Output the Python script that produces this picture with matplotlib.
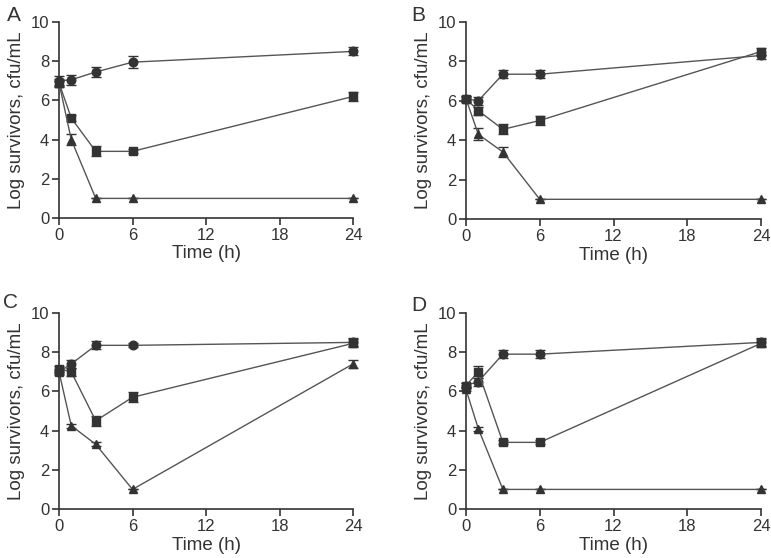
import numpy as np
import matplotlib
matplotlib.use('Agg')
import matplotlib.pyplot as plt

plt.rcParams['font.family'] = ['Liberation Sans', 'DejaVu Sans']
plt.rcParams['font.size'] = 12

time_h = [0, 1, 3, 6, 24]
panels = ['A', 'B', 'C', 'D']

# circles, squares, triangles for each panel
circles = {
    'A': [7.0, 7.05, 7.45, 7.95, 8.5],
    'B': [6.1, 6.0, 7.35, 7.35, 8.3],
    'C': [7.0, 7.4, 8.35, 8.35, 8.5],
    'D': [6.3, 6.5, 7.9, 7.9, 8.5],
}
circles_err = {
    'A': [0.25, 0.25, 0.25, 0.3, 0.2],
    'B': [0.15, 0.2, 0.2, 0.2, 0.2],
    'C': [0.15, 0.2, 0.2, 0.1, 0.2],
    'D': [0.15, 0.2, 0.2, 0.2, 0.2],
}
squares = {
    'A': [6.9, 5.1, 3.4, 3.4, 6.2],
    'B': [6.1, 5.5, 4.55, 5.0, 8.5],
    'C': [7.15, 7.0, 4.5, 5.7, 8.45],
    'D': [6.3, 7.0, 3.4, 3.4, 8.45],
}
squares_err = {
    'A': [0.2, 0.15, 0.25, 0.1, 0.25],
    'B': [0.15, 0.2, 0.25, 0.25, 0.2],
    'C': [0.15, 0.2, 0.25, 0.25, 0.2],
    'D': [0.15, 0.3, 0.1, 0.1, 0.2],
}
triangles = {
    'A': [6.9, 4.0, 1.0, 1.0, 1.0],
    'B': [6.1, 4.3, 3.4, 1.0, 1.0],
    'C': [7.0, 4.25, 3.3, 1.0, 7.4],
    'D': [6.1, 4.1, 1.0, 1.0, 1.0],
}
triangles_err = {
    'A': [0.1, 0.3, 0.0, 0.0, 0.0],
    'B': [0.1, 0.3, 0.25, 0.0, 0.0],
    'C': [0.1, 0.1, 0.1, 0.0, 0.2],
    'D': [0.1, 0.1, 0.0, 0.0, 0.0],
}

dark = '#333333'
fig = plt.figure(figsize=(7.71, 5.58), dpi=100)
W, H = 771, 558
# axes boxes in pixels: left, top(y=10), right, bottom(y=0)
boxes = {
    'A': (59, 22, 353, 218),
    'B': (466, 22, 761, 219),
    'C': (59, 313, 353, 509),
    'D': (466, 313, 761, 509),
}
# panel letter positions (left, top) in pixels
letters = {'A': (7, 6), 'B': (411, 6), 'C': (3, 293), 'D': (411, 296)}

for p in panels:
    l, t, r, b = boxes[p]
    ax = fig.add_axes([l / W, 1 - b / H, (r - l) / W, (b - t) / H])
    for y, e, m, ms in [(circles[p], circles_err[p], 'o', 6.2),
                         (squares[p], squares_err[p], 's', 6.2),
                         (triangles[p], triangles_err[p], '^', 5.8)]:
        ax.errorbar(time_h, y, yerr=e, color='#555555', lw=1, marker=m,
                    ms=ms, mfc=dark, mec=dark, ecolor=dark, elinewidth=1,
                    capsize=3.3, capthick=1, clip_on=False, zorder=3)
    ax.set_xlim(0, 24)
    ax.set_ylim(0, 10)
    ax.set_xticks([0, 6, 12, 18, 24])
    ax.set_yticks([0, 2, 4, 6, 8, 10])
    for s in ['top', 'right']:
        ax.spines[s].set_visible(False)
    for s in ['left', 'bottom']:
        ax.spines[s].set_color(dark)
        ax.spines[s].set_linewidth(1.2)
    ax.tick_params(colors=dark, labelsize=12, length=5, width=1.2, pad=2)
    ax.set_xlabel('Time (h)', color=dark, fontsize=13.5, labelpad=2)
    ax.set_ylabel('Log survivors, cfu/mL', color=dark, fontsize=13.5, labelpad=4)
    lx, ly = letters[p]
    fig.text(lx / W, 1 - ly / H, p, fontsize=15, color=dark,
             ha='left', va='top')

fig.savefig('out.png', dpi=100)
